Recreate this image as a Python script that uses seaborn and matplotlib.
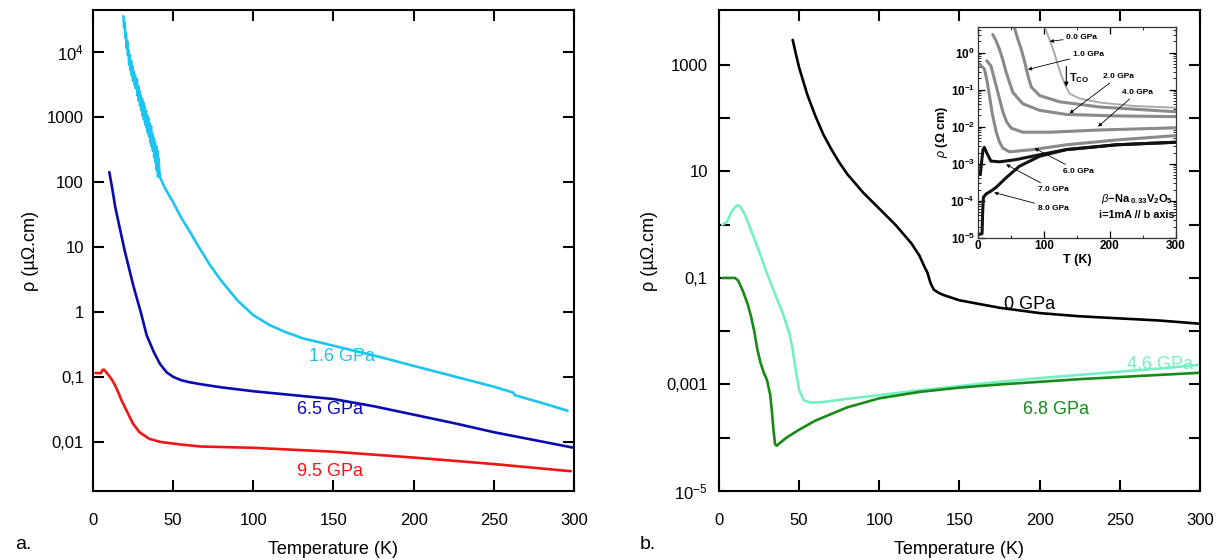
import numpy as np
import pandas as pd
import matplotlib
matplotlib.use("Agg")
import matplotlib.pyplot as plt
import matplotlib.ticker as mticker
import seaborn as sns

# ---------------------------------------------------------------------------
# Data: temperature (K) and log10 of resistivity (µΩ.cm)
# ---------------------------------------------------------------------------
# Panel a
T_16 = [19.0, 19.4, 19.8, 20.2, 20.6, 21.0, 21.4, 21.8, 22.2, 22.6, 23.0, 23.4,
        23.8, 24.2, 24.6, 25.0, 25.4, 25.8, 26.2, 26.6, 27.0, 27.4, 27.8, 28.2,
        28.6, 29.0, 29.4, 29.8, 30.2, 30.6, 31.0, 31.4, 31.8, 32.2, 32.6, 33.0,
        33.4, 33.8, 34.2, 34.6, 35.0, 35.4, 35.8, 36.2, 36.6, 37.0, 37.4, 37.8,
        38.2, 38.6, 39.0, 39.4, 39.8, 40.2, 40.6, 41.0, 41.4, 41.8,
        42, 45, 49.7, 55, 60, 66, 73, 80, 90, 100, 110, 120, 127, 130, 133,
        140, 150, 165, 180, 200, 225, 250, 262, 263, 280, 296]
logrho_16 = [4.55, 4.38, 4.45, 4.22, 4.28, 4.06, 4.16, 3.95, 4.03, 3.80, 3.95, 3.72,
             3.86, 3.64, 3.78, 3.56, 3.70, 3.50, 3.64, 3.44, 3.52, 3.58, 3.33, 3.47,
             3.25, 3.40, 3.17, 3.33, 3.10, 3.28, 3.02, 3.22, 2.96, 3.16, 2.88, 3.10,
             2.84, 3.02, 2.76, 2.98, 2.70, 2.90, 2.60, 2.86, 2.55, 2.74, 2.48, 2.68,
             2.38, 2.62, 2.30, 2.55, 2.18, 2.48, 2.08, 2.36, 2.14, 2.10,
             2.06, 1.90, 1.70, 1.45, 1.25, 1.00, 0.72, 0.48, 0.18, -0.05, -0.20,
             -0.31, -0.37, -0.40, -0.42, -0.46, -0.52, -0.61, -0.70, -0.83,
             -0.99, -1.15, -1.24, -1.28, -1.40, -1.52]

T_65 = [10.2, 12, 14, 16.8, 20, 25.2, 30, 33.5, 38, 41.8, 46, 50.1, 55, 60,
        66.7, 80, 100, 125, 150, 175, 200, 225, 250, 275, 300]
logrho_65 = [2.15, 1.90, 1.60, 1.28, 0.92, 0.40, -0.02, -0.36, -0.62, -0.80,
             -0.93, -1.00, -1.05, -1.08, -1.11, -1.16, -1.22, -1.28, -1.34,
             -1.45, -1.58, -1.71, -1.85, -1.97, -2.09]

T_95 = [1.5, 4, 5, 6, 7, 8, 10, 12, 14, 16, 18, 21, 25, 29, 35, 42, 55, 67,
        100, 150, 200, 250, 298]
logrho_95 = [-0.94, -0.94, -0.94, -0.89, -0.89, -0.92, -0.98, -1.05, -1.14,
             -1.25, -1.37, -1.52, -1.72, -1.85, -1.95, -2.00, -2.04, -2.07,
             -2.09, -2.15, -2.24, -2.34, -2.45]

# Panel b
T_0 = [46, 48, 50, 55, 60, 65, 70, 75, 80, 90, 100, 110, 120, 125, 128, 130,
       132, 134, 137, 140, 150, 175, 200, 225, 250, 275, 300]
logrho_0 = [3.47, 3.20, 2.95, 2.45, 2.05, 1.70, 1.42, 1.17, 0.95, 0.60, 0.30,
            0.00, -0.35, -0.58, -0.78, -0.90, -1.10, -1.22, -1.28, -1.32, -1.42,
            -1.56, -1.66, -1.72, -1.76, -1.80, -1.86]

T_46 = [2, 5, 8, 11, 13, 16, 20, 25, 30, 35, 40, 44, 46, 48, 50, 53, 57, 65,
        80, 100, 125, 150, 175, 200, 225, 250, 275, 300]
logrho_46 = [0.0, 0.05, 0.25, 0.36, 0.35, 0.20, -0.10, -0.50, -0.92, -1.30,
             -1.68, -2.05, -2.35, -2.75, -3.10, -3.30, -3.34, -3.33, -3.27,
             -3.20, -3.11, -3.03, -2.95, -2.88, -2.82, -2.76, -2.70, -2.63]

T_68 = [2, 6, 10, 12, 15, 18, 20, 22, 24, 26, 28, 30, 32, 33, 34, 35, 36, 38,
        42, 50, 60, 80, 100, 125, 150, 175, 200, 225, 250, 275, 300]
logrho_68 = [-1.0, -1.0, -1.0, -1.05, -1.25, -1.50, -1.72, -2.00, -2.35, -2.60,
             -2.78, -2.92, -3.20, -3.50, -3.85, -4.12, -4.15, -4.10, -4.00,
             -3.85, -3.68, -3.43, -3.26, -3.14, -3.06, -3.00, -2.95, -2.90,
             -2.86, -2.82, -2.78]

# Inset: beta-Na0.33V2O5, log10 of resistivity (Ohm cm) at several pressures
inset_pressures = ["0.0 GPa", "1.0 GPa", "2.0 GPa", "4.0 GPa", "6.0 GPa",
                   "7.0 GPa", "8.0 GPa"]
inT_00 = [102, 108, 114, 124, 132.5, 139, 154, 185, 235, 301]
inlog_00 = [0.67, 0.38, 0.09, -0.49, -0.89, -1.11, -1.24, -1.35, -1.44, -1.49]
inT_10 = [55.6, 60, 65.8, 71, 75.9, 81, 93.6, 124, 185, 301]
inlog_10 = [0.67, 0.40, 0.09, -0.25, -0.62, -0.93, -1.16, -1.33, -1.47, -1.60]
inT_20 = [22.8, 27, 32.9, 38, 43, 53, 68, 93.6, 134, 210, 301]
inlog_20 = [0.49, 0.35, 0.09, -0.20, -0.53, -1.07, -1.38, -1.56, -1.67, -1.71, -1.73]
inT_40 = [13.7, 20, 27.8, 33, 38, 44, 50.6, 68, 109, 185, 301]
inlog_40 = [-0.22, -0.36, -0.89, -1.25, -1.60, -1.88, -2.04, -2.15, -2.15, -2.09, -2.03]
inT_60 = [2.5, 10, 14, 17.7, 22, 27.8, 33, 38, 48, 83.5, 134, 210, 301]
inlog_60 = [-0.31, -0.44, -0.75, -1.16, -1.65, -2.13, -2.42, -2.58, -2.68,
            -2.62, -2.49, -2.36, -2.24]
inT_70 = [3, 4, 5, 6.6, 8, 10, 13.7, 20, 33, 58, 93.6, 134, 210, 301]
inlog_70 = [-3.25, -3.29, -3.10, -2.84, -2.62, -2.56, -2.71, -2.93, -2.95,
            -2.89, -2.76, -2.62, -2.49, -2.42]
inT_80 = [2.5, 6.6, 7.5, 8.6, 12.6, 20, 27.8, 43, 63, 93.6, 134, 210, 301]
inlog_80 = [-4.91, -4.89, -4.30, -3.91, -3.82, -3.74, -3.64, -3.38, -3.07,
            -2.80, -2.62, -2.49, -2.42]

# Tick values and labels
xticks = [0, 50, 100, 150, 200, 250, 300]
yticks_a = [1e-2, 1e-1, 1, 10, 100, 1000, 1e4]
ylabels_a = ["0,01", "0,1", "1", "10", "100", "1000", r"$\mathregular{10^{4}}$"]
yticks_b = [1e-5, 1e-4, 1e-3, 1e-2, 1e-1, 1, 10, 100, 1000]
ylabels_b = [r"$\mathregular{10^{-5}}$", "", "0,001", "", "0,1", "", "10", "", "1000"]

# Colours
c_16, c_65, c_95 = "#1CC4F0", "#0A0AB0", "#F01414"
c_0, c_46, c_68 = "#000000", "#74F0C4", "#178A17"

# ---------------------------------------------------------------------------
sns.set_theme(style="ticks")
plt.rcParams.update({
    "font.family": ["Liberation Sans", "DejaVu Sans"],
    "mathtext.fontset": "custom",
    "mathtext.rm": "Liberation Sans",
    "mathtext.it": "Liberation Sans:italic",
    "mathtext.bf": "Liberation Sans:bold",
    "axes.linewidth": 1.5,
    "axes.edgecolor": "black",
    "axes.labelcolor": "black",
    "xtick.color": "black",
    "ytick.color": "black",
    "text.color": "black",
    "axes.facecolor": "white",
    "figure.facecolor": "white",
})


def curve(T, logrho):
    return pd.DataFrame({"T": np.asarray(T, float),
                         "rho": 10.0 ** np.asarray(logrho, float)})


fig = plt.figure(figsize=(12.2, 5.6), dpi=100)
ax_a = fig.add_axes([0.0762, 0.1232, 0.3943, 0.8589])
ax_b = fig.add_axes([0.5893, 0.1232, 0.3943, 0.8589])

line_kw = dict(x="T", y="rho", sort=False, estimator=None, linewidth=1.9)

sns.lineplot(data=curve(T_16, logrho_16), ax=ax_a, color=c_16, **line_kw)
sns.lineplot(data=curve(T_65, logrho_65), ax=ax_a, color=c_65, **line_kw)
sns.lineplot(data=curve(T_95, logrho_95), ax=ax_a, color=c_95, **line_kw)

sns.lineplot(data=curve(T_0, logrho_0), ax=ax_b, color=c_0, **line_kw)
sns.lineplot(data=curve(T_46, logrho_46), ax=ax_b, color=c_46, **line_kw)
sns.lineplot(data=curve(T_68, logrho_68), ax=ax_b, color=c_68, **line_kw)

for ax, yt, yl, ylim, ypad in ((ax_a, yticks_a, ylabels_a, (1.76e-3, 4.4e4), 6.5),
                               (ax_b, yticks_b, ylabels_b, (1e-5, 1.07e4), 8)):
    ax.set_yscale("log")
    ax.set_xlim(0, 300)
    ax.set_ylim(*ylim)
    ax.xaxis.set_major_locator(mticker.FixedLocator(xticks))
    ax.xaxis.set_major_formatter(mticker.FixedFormatter([str(t) for t in xticks]))
    ax.yaxis.set_major_locator(mticker.FixedLocator(yt))
    ax.yaxis.set_major_formatter(mticker.FixedFormatter(yl))
    ax.yaxis.set_minor_locator(mticker.NullLocator())
    ax.tick_params(axis="both", which="major", direction="in", length=8,
                   width=1.5, top=True, right=True, labelsize=12)
    ax.tick_params(axis="x", pad=16)
    ax.tick_params(axis="y", pad=ypad)
    ax.set_xlabel("Temperature (K)", fontsize=13, labelpad=9)
    ax.set_ylabel("ρ (µΩ.cm)", fontsize=13, labelpad=6)
    for s in ax.spines.values():
        s.set_visible(True)
        s.set_linewidth(1.5)

# Curve labels
ax_a.text(155, 10 ** -0.68, "1.6 GPa", color=c_16, fontsize=13, ha="center", va="center")
ax_a.text(148, 10 ** -1.50, "6.5 GPa", color=c_65, fontsize=13, ha="center", va="center")
ax_a.text(148, 10 ** -2.45, "9.5 GPa", color=c_95, fontsize=13, ha="center", va="center")

ax_b.text(194, 10 ** -1.49, "0 GPa", color=c_0, fontsize=13, ha="center", va="center")
ax_b.text(275, 10 ** -2.62, "4.6 GPa", color=c_46, fontsize=13, ha="center", va="center")
ax_b.text(210, 10 ** -3.47, "6.8 GPa", color=c_68, fontsize=13, ha="center", va="center")

fig.text(0.012, 0.027, "a.", fontsize=14, ha="left", va="center")
fig.text(0.524, 0.027, "b.", fontsize=14, ha="left", va="center")

# ---------------------------------------------------------------------------
# Inset of panel b
ax_in = fig.add_axes([0.8014, 0.5755, 0.1626, 0.3768])
inset_curves = [
    (inT_00, inlog_00, "#ababab", 1.4),
    (inT_10, inlog_10, "#8a8a8a", 2.2),
    (inT_20, inlog_20, "#8a8a8a", 2.2),
    (inT_40, inlog_40, "#8a8a8a", 2.2),
    (inT_60, inlog_60, "#8a8a8a", 2.2),
    (inT_70, inlog_70, "#111111", 2.2),
    (inT_80, inlog_80, "#111111", 2.2),
]
for T, lg, col, lw in inset_curves:
    d = pd.DataFrame({"T": np.asarray(T, float), "rho": 10.0 ** np.asarray(lg, float)})
    sns.lineplot(data=d, x="T", y="rho", ax=ax_in, color=col, linewidth=lw,
                 sort=False, estimator=None)

ax_in.set_yscale("log")
ax_in.set_xlim(0, 300)
ax_in.set_ylim(1e-5, 5)
ax_in.xaxis.set_major_locator(mticker.FixedLocator([0, 100, 200, 300]))
ax_in.xaxis.set_minor_locator(mticker.FixedLocator([50, 150, 250]))
ax_in.xaxis.set_major_formatter(mticker.FixedFormatter(["0", "100", "200", "300"]))
in_yt = [1e-5, 1e-4, 1e-3, 1e-2, 1e-1, 1]
ax_in.yaxis.set_major_locator(mticker.FixedLocator(in_yt))
ax_in.yaxis.set_major_formatter(mticker.FixedFormatter(
    [r"$\mathbf{10^{%d}}$" % e for e in (-5, -4, -3, -2, -1, 0)]))
ax_in.yaxis.set_minor_locator(mticker.LogLocator(base=10, subs=np.arange(2, 10)))
ax_in.yaxis.set_minor_formatter(mticker.NullFormatter())
ax_in.tick_params(which="major", direction="in", length=5, width=0.9,
                  top=True, right=True, labelsize=8.5, pad=2)
ax_in.tick_params(which="minor", direction="in", length=2.5, width=0.6,
                  top=True, right=True)
for lab in ax_in.get_xticklabels():
    lab.set_fontweight("bold")
for s in ax_in.spines.values():
    s.set_visible(True)
    s.set_linewidth(0.9)
    s.set_color("#333333")
ax_in.set_xlabel("T (K)", fontsize=9, fontweight="bold", labelpad=1)
ax_in.set_ylabel(r"$\mathit{\rho}$ (Ω cm)", fontsize=9, fontweight="bold", labelpad=0)

arrow = dict(arrowstyle="-|>", color="black", lw=0.6, mutation_scale=5,
             shrinkA=0, shrinkB=0)
small = dict(fontsize=6, fontweight="bold", va="center", ha="left")
ax_in.annotate(inset_pressures[0], xy=(109, 2.0), xytext=(134, 2.6),
               arrowprops=arrow, **small)
ax_in.annotate(inset_pressures[1], xy=(76, 0.35), xytext=(144, 0.9),
               arrowprops=arrow, **small)
ax_in.annotate(inset_pressures[2], xy=(139, 0.023), xytext=(190, 0.23),
               arrowprops=arrow, **small)
ax_in.annotate(inset_pressures[3], xy=(182, 0.01), xytext=(218, 0.085),
               arrowprops=arrow, **small)
ax_in.annotate(inset_pressures[4], xy=(86, 2.6e-3), xytext=(129, 6.3e-4),
               arrowprops=arrow, **small)
ax_in.annotate(inset_pressures[5], xy=(43, 9.5e-4), xytext=(91, 2.0e-4),
               arrowprops=arrow, **small)
ax_in.annotate(inset_pressures[6], xy=(25, 1.66e-4), xytext=(91, 6.3e-5),
               arrowprops=arrow, **small)
ax_in.annotate("", xy=(134, 0.12), xytext=(134, 0.42),
               arrowprops=dict(arrowstyle="-|>", color="black", lw=0.8,
                               mutation_scale=6, shrinkA=0, shrinkB=0))
ax_in.text(138, 0.21, r"T$_{\mathbf{CO}}$", fontsize=8, fontweight="bold",
           va="center", ha="left")
ax_in.text(296, 1.1e-4,
           r"$\mathit{\beta}\mathbf{-Na}_{\mathbf{\ 0.33}}\mathbf{V}_{\mathbf{2}}\mathbf{O}_{\mathbf{5}}$",
           fontsize=8, ha="right", va="center")
ax_in.text(298, 4.0e-5, "i=1mA // b axis", fontsize=7.8, fontweight="bold",
           ha="right", va="center")

fig.savefig("out.png", dpi=100)
